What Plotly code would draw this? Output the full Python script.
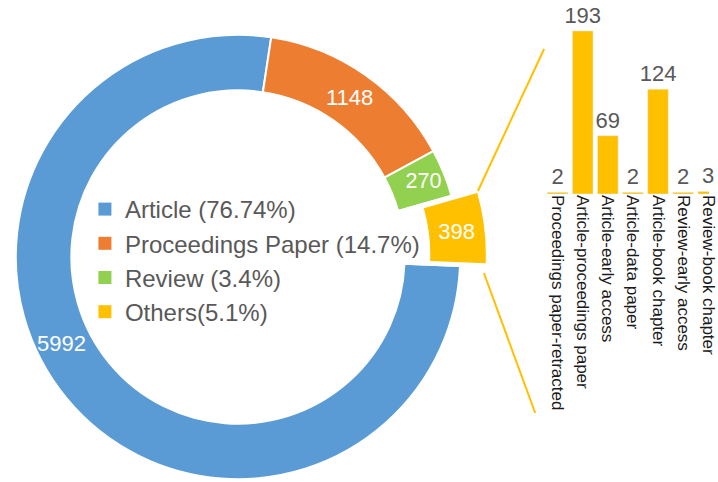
#!/usr/bin/env python3
"""
Document types: donut of the main types, with the small "Others" slice
pulled out and broken down in a bar chart on the right.
"""

import plotly.graph_objects as go

W, H = 718, 482

# --- Data ---

TYPE_LABELS = ["Article (76.74%)", "Proceedings Paper (14.7%)", "Review (3.4%)", "Others(5.1%)"]
TYPE_COUNTS = [5992, 1148, 270, 398]
TYPE_COLORS = ["#5B9BD5", "#ED7D31", "#92D050", "#FFC000"]

OTHER_LABELS = [
    "Proceedings paper-retracted",
    "Article-proceedings paper",
    "Article-early access",
    "Article-data paper",
    "Article-book chapter",
    "Review-early access",
    "Review-book chapter",
]
OTHER_COUNTS = [2, 193, 69, 2, 124, 2, 3]

FONT = "Arial, Liberation Sans, sans-serif"
GOLD = "#FFC000"
GREY = "#595959"
CLEAR = "rgba(0,0,0,0)"


def px(x, y):
    # pixel position -> paper coordinates
    return x / W, 1 - y / H


def pie_domain(cx, cy, r):
    x0, y1 = px(cx - r, cy - r)
    x1, y0 = px(cx + r, cy + r)
    return dict(x=[max(x0, 0), min(x1, 1)], y=[max(y0, 0), min(y1, 1)])


def build_figure():
    fig = go.Figure()

    # start of the Article slice, so that Proceedings begins just right of 12 o'clock
    rotation = 8.6 + 360 * sum(TYPE_COUNTS[1:]) / sum(TYPE_COUNTS)

    common = dict(
        labels=TYPE_LABELS,
        values=TYPE_COUNTS,
        hole=0.75,
        sort=False,
        direction="clockwise",
        rotation=rotation,
        textposition="inside",
        insidetextorientation="horizontal",
        insidetextfont=dict(color="white", size=22, family=FONT),
        hoverinfo="label+value",
        showlegend=False,
    )

    # main ring, Others left empty
    fig.add_trace(go.Pie(
        domain=pie_domain(241, 257, 225),
        marker=dict(colors=TYPE_COLORS[:3] + [CLEAR], line=dict(color="white", width=2)),
        texttemplate=["", "%{value}", "%{value}", ""],
        **common,
    ))

    # Others slice, drawn shifted outward
    fig.add_trace(go.Pie(
        domain=pie_domain(267, 254.2, 225),
        marker=dict(colors=[CLEAR] * 3 + [GOLD], line=dict(color=CLEAR, width=0)),
        texttemplate=["", "", "", "%{value}"],
        **common,
    ))

    fig.add_trace(go.Bar(
        x=OTHER_LABELS,
        y=OTHER_COUNTS,
        marker_color=GOLD,
        text=OTHER_COUNTS,
        textposition="outside",
        constraintext="none",
        textfont=dict(color=GREY, size=22, family=FONT),
        cliponaxis=False,
        showlegend=False,
        hovertemplate="%{x}: %{y}<extra></extra>",
    ))

    # legend entries for the donut
    for label, color in zip(TYPE_LABELS, TYPE_COLORS):
        fig.add_trace(go.Scatter(
            x=[None], y=[None], mode="markers", name=label,
            marker=dict(symbol="square", size=13, color=color),
            showlegend=True, hoverinfo="skip",
        ))

    # Article label sits low on the left of the ring
    ax, ay = px(62, 343)
    fig.add_annotation(
        x=ax, y=ay, xref="paper", yref="paper", text=str(TYPE_COUNTS[0]),
        xanchor="center", yanchor="middle",
        showarrow=False, font=dict(color="white", size=22, family=FONT),
    )

    # connectors from the pulled slice to the breakdown
    for (xa, ya), (xb, yb) in [((484, 191), (551, 49)), ((490, 273), (542, 413))]:
        x0, y0 = px(xa, ya)
        x1, y1 = px(xb, yb)
        fig.add_shape(type="line", xref="paper", yref="paper", x0=x0, y0=y0, x1=x1, y1=y1,
                      line=dict(color=GOLD, width=2))

    bar_x0, _ = px(552, 0)
    _, bar_y0 = px(0, 194)
    fig.update_layout(
        width=W,
        height=H,
        margin=dict(l=0, r=0, t=0, b=0),
        paper_bgcolor="white",
        plot_bgcolor="white",
        font=dict(family=FONT, color=GREY),
        bargap=0.18,
        xaxis=dict(
            domain=[bar_x0, 1],
            range=[-0.5, 6.03],
            tickangle=90,
            tickfont=dict(size=17, color="#1a1a1a", family=FONT),
            showline=False,
            showgrid=False,
            zeroline=False,
            ticks="",
            fixedrange=True,
        ),
        yaxis=dict(
            domain=[bar_y0, 1],
            range=[0, 229.6],
            visible=False,
            fixedrange=True,
        ),
        legend=dict(
            x=86 / W, y=1 - 187 / H, xanchor="left", yanchor="top",
            font=dict(size=24, color=GREY, family=FONT),
            bgcolor=CLEAR,
            itemclick=False,
            itemdoubleclick=False,
        ),
    )
    return fig


def main():
    fig = build_figure()
    # drop the page's default body margin so the figure sits at the window's corner
    fig.write_html(
        "out.html",
        config={"displayModeBar": False},
        post_script="document.body.style.margin='0';document.body.style.overflow='hidden';",
    )


if __name__ == "__main__":
    main()
